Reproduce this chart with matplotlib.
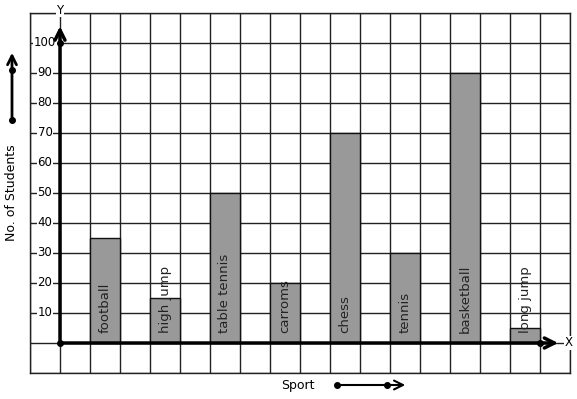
import matplotlib
matplotlib.use("Agg")
import matplotlib.pyplot as plt

# data
sports = ["football", "high jump", "table tennis", "carroms", "chess",
          "tennis", "basketball", "long jump"]
students = [35, 15, 50, 20, 70, 30, 90, 5]
y_ticks = [10, 20, 30, 40, 50, 60, 70, 80, 90, 100]

W, H = 577, 399
fig = plt.figure(figsize=(W / 100, H / 100), dpi=100)
# axes spans the graph paper: 18 cells wide, 12 cells tall (1 cell = 30 px)
ax = fig.add_axes([30 / W, 26 / H, 540 / W, 360 / H])
ax.set_xlim(-1, 17)
ax.set_ylim(-10, 110)

# graph paper grid
for gx in range(-1, 18):
    ax.axvline(gx, color="#222222", lw=1, zorder=1)
for gy in range(-10, 111, 10):
    ax.axhline(gy, color="#222222", lw=1, zorder=1)
ax.set_xticks([])
ax.set_yticks([])
for s in ax.spines.values():
    s.set_color("#222222")
    s.set_linewidth(1)

# bars: one grid cell wide, every second cell
xpos = [1.5 + 2 * i for i in range(len(sports))]
ax.bar(xpos, students, width=1, color="#999999", edgecolor="#111111",
       linewidth=1, zorder=2)
for x, name in zip(xpos, sports):
    ax.text(x, 3.3, name, rotation=90, ha="center", va="bottom",
            fontsize=9.5, color="#222222", zorder=5)

# axes arrows
ax.annotate("", xy=(0, 106.5), xytext=(0, 0),
            arrowprops=dict(arrowstyle="->", lw=2.5, color="black",
                            mutation_scale=18), zorder=6)
ax.annotate("", xy=(16.7, 0), xytext=(0, 0),
            arrowprops=dict(arrowstyle="->", lw=2.5, color="black",
                            mutation_scale=18), zorder=6)
ax.plot([0, 0, 16], [0, 100, 0], "o", color="black", ms=4, zorder=7)

# tick labels on the paper
for v in y_ticks:
    ax.text(-0.5, v, str(v), ha="center", va="center", fontsize=8.5,
            bbox=dict(facecolor="white", edgecolor="none", pad=0.3), zorder=4)
ax.text(0, 111, "Y", ha="center", va="center", fontsize=8.5, clip_on=False,
        bbox=dict(facecolor="white", edgecolor="none", pad=0.3), zorder=4)
ax.text(16.95, 0, "X", ha="center", va="center", fontsize=8.5, clip_on=False,
        bbox=dict(facecolor="white", edgecolor="none", pad=0.3), zorder=4)

# axis titles with their decorative arrows (figure coords)
fig.text(12 / W, 1 - 193 / H, "No. of Students", rotation=90,
         ha="center", va="center", fontsize=9)
fig.text(298 / W, 1 - 385 / H, "Sport", ha="center", va="center", fontsize=9)

fig.add_artist(matplotlib.patches.FancyArrowPatch(
    (12 / W, 1 - 120 / H), (12 / W, 1 - 50 / H), transform=fig.transFigure,
    arrowstyle="->", lw=2, color="black", mutation_scale=16))
fig.add_artist(matplotlib.lines.Line2D(
    [12 / W, 12 / W], [1 - 120 / H, 1 - 70 / H], transform=fig.transFigure,
    ls="none", marker="o", ms=4, color="black"))
fig.add_artist(matplotlib.patches.FancyArrowPatch(
    (337 / W, 1 - 385 / H), (408 / W, 1 - 385 / H), transform=fig.transFigure,
    arrowstyle="->", lw=1.5, color="black", mutation_scale=16))
fig.add_artist(matplotlib.lines.Line2D(
    [337 / W, 387 / W], [1 - 385 / H, 1 - 385 / H], transform=fig.transFigure,
    ls="none", marker="o", ms=4, color="black"))

fig.savefig("out.png", dpi=100, facecolor="white")
